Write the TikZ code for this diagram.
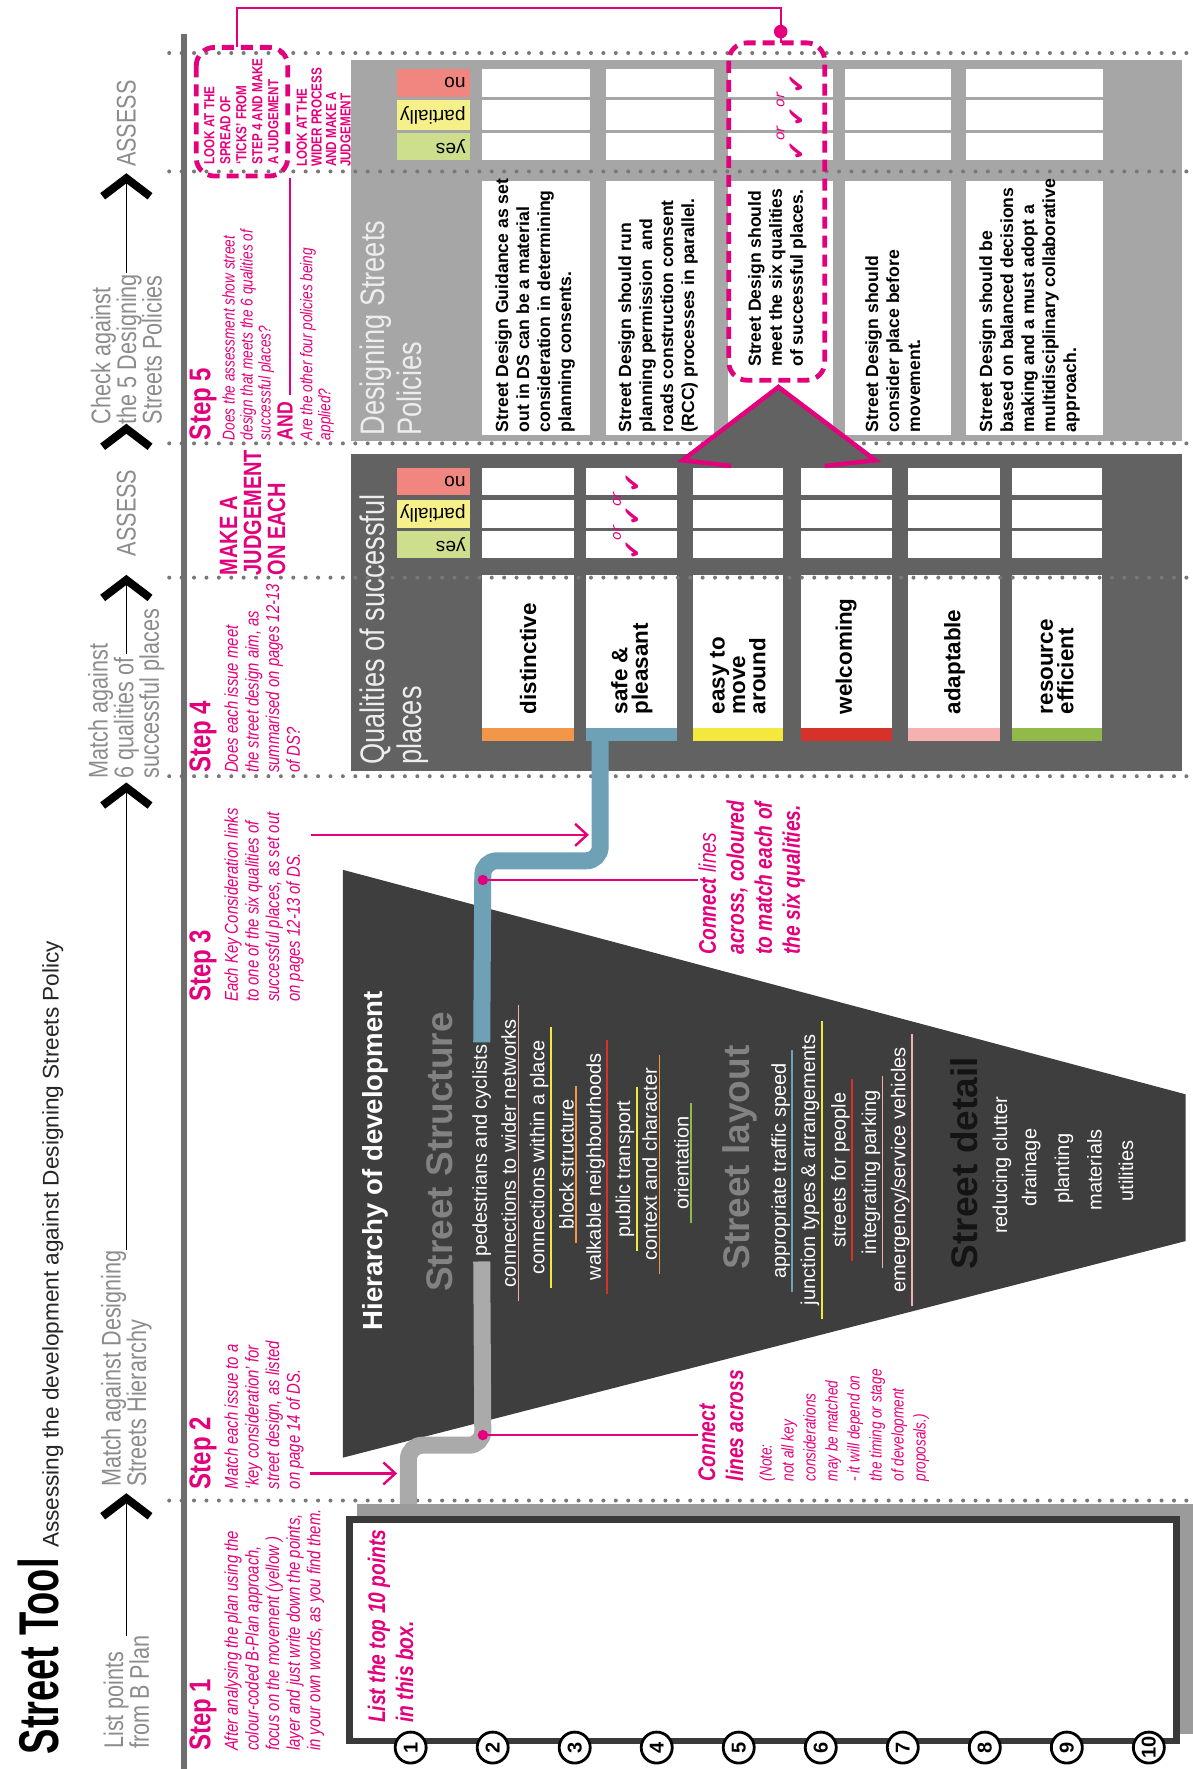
\documentclass[tikz,border=0pt]{standalone}
\usepackage{fontspec}
\setmainfont{Liberation Sans}
\newfontfamily\cnd[FakeStretch=0.8]{Liberation Sans}
\newfontfamily\ttl[FakeStretch=0.68]{Liberation Sans}
\newfontfamily\dejavu{DejaVu Sans}
\usetikzlibrary{arrows.meta,calc}
\newcommand{\fsz}[2]{\fontsize{#1}{#2}\selectfont}
\definecolor{pk}{RGB}{228,0,124}
\definecolor{hgrey}{RGB}{140,140,140}
\definecolor{sgrey}{RGB}{130,130,130}
\definecolor{tric}{RGB}{62,62,62}
\definecolor{dpanel}{RGB}{98,98,98}
\definecolor{lpanel}{RGB}{166,166,166}
\definecolor{cno}{RGB}{241,134,128}
\definecolor{cpart}{RGB}{246,240,138}
\definecolor{cyes}{RGB}{205,222,140}
\definecolor{qor}{RGB}{242,150,74}
\definecolor{qbl}{RGB}{110,160,182}
\definecolor{qye}{RGB}{244,232,60}
\definecolor{qre}{RGB}{215,50,42}
\definecolor{qpi}{RGB}{245,176,176}
\definecolor{qgr}{RGB}{146,186,74}
\definecolor{connc}{RGB}{170,170,170}
\definecolor{dotc}{RGB}{120,120,120}
\definecolor{barc}{RGB}{110,110,110}
\definecolor{framec}{RGB}{58,58,58}
\definecolor{shadc}{RGB}{155,155,155}
\newcommand{\hul}[2]{\draw[ulc,#2] ($(#1.south west)+(2,12)$) -- ($(#1.south east)+(2,-12)$);}
\newcommand{\ticks}{\dejavu ✔\raisebox{10pt}{\itshape\fsz{7}{7}or}✔\raisebox{10pt}{\itshape\fsz{7}{7}or}✔}
\begin{document}
\begin{tikzpicture}[x=0.5639pt,y=-0.5639pt,
  rot/.style={rotate=90,inner sep=0pt,outer sep=0pt},
  hdr/.style={rot,anchor=west,align=left,text=hgrey,font=\cnd\fsz{13.5}{12.8}},
  shead/.style={rot,anchor=north west,text=pk,font=\cnd\bfseries\fsz{15}{16}},
  sbody/.style={rot,anchor=north west,align=left,text=pk,font=\cnd\itshape\fsz{9.3}{10.3}},
  chev/.style={line width=4pt,line join=miter,line cap=butt},
  hline/.style={line width=0.8pt},
  dotrow/.style={dotc,line width=2pt,line cap=round,dash pattern=on 0pt off 6.2pt},
  pol/.style={rot,anchor=north west,align=left,font=\bfseries\fsz{8.8}{10.5}},
  qual/.style={rot,anchor=west,align=left,font=\bfseries\fsz{11.2}{10.2}},
  lab/.style={rotate=180,anchor=west,inner sep=0pt,font=\fsz{9.5}{10}},
  hitem/.style={rot,anchor=center,text=white,font=\fsz{10}{11}},
  bighead/.style={rot,anchor=center,font=\bfseries\fsz{18.5}{20}},
  ptr/.style={pk,line width=1.2pt,-{Straight Barb[length=6pt,width=11pt]}},
  dashbox/.style={pk,line width=2.4pt,dash pattern=on 6pt off 3.5pt,rounded corners=9pt},
  numc/.style={circle,draw=black,fill=white,line width=1.4pt,minimum size=15.5pt,inner sep=0pt,rotate=90,font=\bfseries\fsz{10}{10}},
  ulc/.style={line width=0.9pt},
  cnx/.style={line width=8.5pt,rounded corners=7pt},
  pkbold/.style={rot,anchor=north west,align=left,text=pk,font=\cnd\bfseries\itshape\fsz{12}{14}},
  tick/.style={rot,anchor=base west,text=pk,font=\fsz{11.5}{12}},
  bigtitle/.style={rot,anchor=north west,align=left,text=white!93!black,font=\cnd\fsz{17}{18.5}}
]
\useasboundingbox (0,0) rectangle (1057,1568);
\fill[white] (0,0) rectangle (1057,1568);
% ---------- panels ----------
\fill[lpanel] (311,53) rectangle (1048,391);
\fill[dpanel] (311,402) rectangle (1048,683);
\foreach \ya/\yb/\cc in {61/86/cno,89/115/cpart,118/142/cyes,415/439/cno,443/468/cpart,471/495/cyes}
  \fill[\cc] (352,\ya) rectangle (417,\yb);
\foreach \xa/\xb in {427/523,537/633,645/738,749/843,856/978}{
  \foreach \ya/\yb in {61/86,89/115,118/142} \fill[white] (\xa,\ya) rectangle (\xb,\yb);
  \fill[white] (\xa,160) rectangle (\xb,386);
}
\foreach \xa/\xb/\cc in {427/509/qor,519/600/qbl,614/694/qye,710/791/qre,805/886/qpi,897/977/qgr}{
  \foreach \ya/\yb in {415/439,443/468,471/495} \fill[white] (\xa,\ya) rectangle (\xb,\yb);
  \fill[white] (\xa,510) rectangle (\xb,645);
  \fill[\cc] (\xa,645) rectangle (\xb,657);
}
% ---------- hierarchy trapezoid ----------
\fill[tric] (304,771) -- (1051,970) -- (1051,1100) -- (304,1292) -- cycle;
% ---------- list box ----------
\fill[shadc] (316,1333) rectangle (1057,1537);
\draw[framec,fill=white,line width=3.3pt] (310,1347) rectangle (1043,1543);
\coordinate (boxtop) at (362,1333);
% ---------- dotted rows and left bar ----------
\foreach \r in {47,152,393,512,688,1330} \draw[dotrow] (150,\r) -- (1057,\r);
\fill[barc] (160,30) rectangle (166,1568);
% ---------- header ----------
\node[rot,anchor=base west,font=\ttl\bfseries\fsz{28}{30}] (title) at (52,1555) {Street Tool};
\node[rot,anchor=base west,font=\fsz{11.3}{12},text=black!85] (sub) at (52,1372) {Assessing the development against Designing Streets Policy};
\node[hdr] (h1) at (112,1550) {List points\\from B Plan};
\node[hdr] (h2) at (112,1318) {Match against Designing\\Streets Hierarchy};
\node[hdr] (h3) at (112,690) {Match against\\6 qualities of\\successful places};
\node[hdr] (h4) at (112,493) {ASSESS};
\node[hdr] (h5) at (112,376) {Check against\\the 5 Designing\\Streets Policies};
\node[hdr] (h6) at (112,148) {ASSESS};
\foreach \c/\nm in {1335/c1,705/c2,521/c3,387/c4,165/c5}{
  \draw[chev] (91,\c+9) -- (112,\c-7) -- (133,\c+9);
  \coordinate (\nm) at (112,\c-7);
}
\draw[hline] (h1.east) -- (c1);
\draw[hline] (h2.east) -- (c2);
\draw[hline] (112,580) -- (c3);
\draw[hline] (112,242) -- (c5);
% ---------- step texts ----------
\node[shead] (s1h) at (168,1552) {Step 1};
\node[sbody] (s1b) at (199,1552) {After analysing the plan using the\\colour-coded B-Plan approach,\\focus on the movement (yellow )\\layer and just write down the points,\\in your own words, as you find them.};
\node[shead] (s2h) at (168,1320) {Step 2};
\node[sbody] (s2b) at (199,1320) {Match each issue to a\\‘key consideration’ for\\street design, as listed\\on page 14 of DS.};
\node[shead] (s3h) at (168,888) {Step 3};
\node[sbody] (s3b) at (199,888) {Each Key Consideration links\\to one of the six qualities of\\successful places, as set out\\on pages 12-13 of DS.};
\node[shead] (s4h) at (168,685) {Step 4};
\node[sbody] (s4b) at (199,685) {Does each issue meet\\the street design aim, as\\summarised on pages 12-13\\of DS?};
\node[rot,anchor=north west,align=left,text=pk,font=\cnd\bfseries\fsz{12.5}{12}] (mj) at (195,510) {MAKE A\\JUDGEMENT\\ON EACH};
\node[shead] (s5h) at (168,390) {Step 5};
\node[sbody,font=\cnd\itshape\fsz{8.5}{9}] (s5b) at (197,390) {Does the assessment show street\\design that meets the 6 qualities of\\successful places?};
\node[rot,anchor=north west,text=pk,font=\cnd\bfseries\fsz{11}{11}] (and) at (246,390) {AND};
\node[sbody,font=\cnd\itshape\fsz{8.5}{9}] (s5c) at (266,390) {Are the other four policies being\\applied?};
\draw[pk,line width=0.7pt] (257,158) -- (257,350);
% LOOK AT boxes
\draw[dashbox] (174,42) rectangle (255,156);
\node[rot,anchor=north west,align=left,text=pk,font=\cnd\bfseries\fsz{7.3}{8}] (spread) at (181,146) {LOOK AT THE\\SPREAD OF\\‘TICKS’ FROM\\STEP 4 AND MAKE\\A JUDGEMENT};
\node[rot,anchor=north west,align=left,text=pk,font=\cnd\bfseries\fsz{7.3}{7.3}] (wider) at (263,148) {LOOK AT THE\\WIDER PROCESS\\AND MAKE A\\JUDGEMENT};
\draw[dashbox] (646,38) rectangle (731,337);
\draw[pk,line width=1.1pt] (210,42) -- (210,7) -- (692,7) -- (692,38);
\fill[pk] (692,28) circle (3.4pt);
% ---------- policies ----------
\node[bigtitle] (dsp) at (319,386) {Designing Streets\\Policies};
\node[pol] (p1) at (439,383) {Street Design Guidance as set\\out in DS can be a material\\consideration in determining\\planning consents.};
\node[pol] (p2) at (548,383) {Street Design should run\\planning permission\ \ and\\roads construction consent\\(RCC) processes in parallel.};
\node[pol] (p3) at (663,325) {Street Design should\\meet the six qualities\\of successful places.};
\node[pol] (p4) at (767,383) {Street Design should\\consider place before\\movement.};
\node[pol] (p5) at (868,383) {Street Design should be\\based on balanced decisions\\making and a must adopt a\\multidisciplinary collaborative\\approach.};
\foreach \yc/\tx in {73.5/no,102/partially,130/yes,427/no,455.5/partially,483/yes}
  \node[lab] at (413,\yc) {\tx};
\node[tick] (tk2) at (713,142) {\ticks};
% ---------- big arrow ----------
\fill[dpanel] (648,414) -- (605,408) -- (690,343) -- (776,408) -- (731,414) -- cycle;
\draw[pk,line width=2.2pt,line join=miter] (648,413) -- (605,408) -- (690,343) -- (776,408) -- (731,413);
% ---------- qualities ----------
\node[bigtitle] (qsp) at (319,678) {Qualities of successful\\places};
\node[qual] (q1) at (468,633) {distinctive};
\node[qual] (q2) at (560,633) {safe \&\\pleasant};
\node[qual] (q3) at (654,633) {easy to\\move\\around};
\node[qual] (q4) at (750,633) {welcoming};
\node[qual] (q5) at (846,633) {adaptable};
\node[qual] (q6) at (937,633) {resource\\efficient};
\node[tick] (tk1) at (568,496) {\ticks};
\coordinate (bar2) at (532,657);
% ---------- hierarchy texts ----------
\node[rot,text=white,font=\bfseries\fsz{13.8}{15}] (hier) at (333,1029) {Hierarchy of development};
\node[bighead,text=sgrey] (ss) at (390,1021) {Street Structure};
\node[hitem] (ped) at (427,1020) {pedestrians and cyclists};
\node[hitem] (i1) at (451,1022) {connections to wider networks};
\node[hitem] (i2) at (478,1026) {connections within a place};
\node[hitem] (i3) at (502,1032) {block structure};
\node[hitem] (i4) at (528,1034) {walkable neighbourhoods};
\node[hitem] (i5) at (554,1036) {public transport};
\node[hitem] (i6) at (576,1032) {context and character};
\node[hitem] (i7) at (604,1031) {orientation};
\node[bighead,text=sgrey] (sl) at (656,1026) {Street layout};
\node[hitem] (i8) at (692,1038) {appropriate traffic speed};
\node[hitem] (i9) at (718,1037) {junction types \& arrangements};
\node[hitem] (i10) at (745,1037) {streets for people};
\node[hitem] (i11) at (772,1039) {integrating parking};
\node[hitem] (i12) at (798,1037) {emergency/service vehicles};
\node[bighead,text=black!92] (sd) at (855,1031) {Street detail};
\node[hitem] (i13) at (888,1033) {reducing clutter};
\node[hitem] (i14) at (914,1035) {drainage};
\node[hitem] (i15) at (943,1036) {planting};
\node[hitem] (i16) at (970,1037) {materials};
\node[hitem] (i17) at (998,1038) {utilities};
\hul{i1}{qpi}\hul{i2}{qye}\hul{i3}{qor}\hul{i4}{qre}\hul{i5}{qye}\hul{i6}{qor}\hul{i7}{qgr}
\hul{i8}{qbl}\hul{i9}{qye}\hul{i10}{qre}\hul{i11}{qpi}\hul{i12}{qpi}
% ---------- connectors ----------
\draw[cnx,qbl] (bar2) |- (428,763) -- ($(ped.east)+(0,-2)$);
\draw[cnx,connc] ($(ped.west)+(0,4)$) -- (428,1281) -| (boxtop);
% ---------- step pointers ----------
\draw[ptr] (275,1306) -- (352,1306);
\draw[ptr] (276,740) -- (522,740);
% ---------- connect notes ----------
\node[pkbold] (cn1) at (619,846) {Connect {\mdseries lines}\\across, coloured\\to match each of\\the six qualities.};
\node[pkbold] (cn2) at (619,1313) {Connect\\lines across};
\node[rot,anchor=north west,align=left,text=pk,font=\cnd\itshape\fsz{8.5}{11}] (note) at (673,1313) {(Note:\\not all key\\considerations\\may be matched\\- it will depend on\\the timing or stage\\of development\\proposals.)};
\coordinate (d1) at (428,780);
\coordinate (d2) at (428,1272);
\fill[pk] (d1) circle (2.6pt);
\fill[pk] (d2) circle (2.6pt);
\draw[pk,line width=0.8pt] (d1) -- (d1 -| cn1.north);
\draw[pk,line width=0.8pt] (d2) -- (d2 -| cn2.north);
% ---------- list box text and numbers ----------
\node[pkbold] (listtxt) at (326,1527) {List the top 10 points\\in this box.};
\foreach \k in {1,...,10} \node[numc] (n\k) at ({364+(\k-1)*72.7},1549) {\k};
\end{tikzpicture}
\end{document}
